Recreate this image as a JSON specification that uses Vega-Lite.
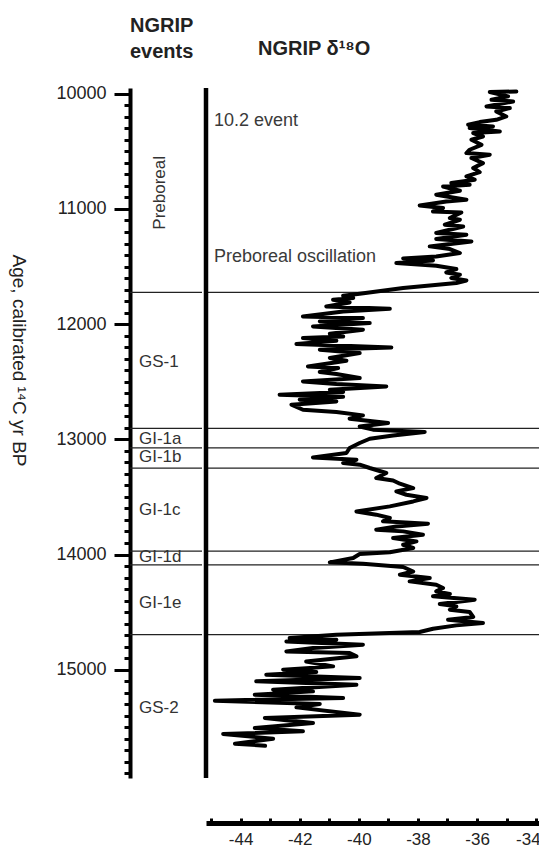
{
  "$schema": "https://vega.github.io/schema/vega-lite/v6.json",
  "padding": {"left": 8, "top": 15, "right": 0, "bottom": 0},
  "background": "white",
  "config": {"view": {"stroke": null}, "font": "Liberation Sans", "concat": {"spacing": 0}},
  "datasets": {
    "boundaries": [{"age": 11725}, {"age": 12905}, {"age": 13075}, {"age": 13250}, {"age": 13970}, {"age": 14090}, {"age": 14695}],
    "events": [
      {"label": "GS-1", "age": 12330},
      {"label": "GI-1a", "age": 13000},
      {"label": "GI-1b", "age": 13155},
      {"label": "GI-1c", "age": 13610},
      {"label": "GI-1d", "age": 14020},
      {"label": "GI-1e", "age": 14420},
      {"label": "GS-2", "age": 15330}
    ],
    "preboreal": [{"label": "Preboreal", "age": 10860}],
    "annotations": [{"label": "10.2 event", "age": 10234}, {"label": "Preboreal oscillation", "age": 11420}],
    "ngrip": [
      {"age": 9980, "d18O": -34.67}, {"age": 9985, "d18O": -35.57}, {"age": 10023, "d18O": -34.95}, {"age": 10052, "d18O": -35.51},
      {"age": 10067, "d18O": -34.78}, {"age": 10110, "d18O": -35.68}, {"age": 10124, "d18O": -34.89}, {"age": 10154, "d18O": -35.35},
      {"age": 10197, "d18O": -35.01}, {"age": 10226, "d18O": -35.35}, {"age": 10246, "d18O": -35.91}, {"age": 10269, "d18O": -36.30},
      {"age": 10284, "d18O": -35.46}, {"age": 10298, "d18O": -36.25}, {"age": 10327, "d18O": -35.23}, {"age": 10341, "d18O": -36.13},
      {"age": 10371, "d18O": -35.80}, {"age": 10399, "d18O": -36.19}, {"age": 10443, "d18O": -35.85}, {"age": 10486, "d18O": -36.25},
      {"age": 10515, "d18O": -36.36}, {"age": 10529, "d18O": -35.57}, {"age": 10558, "d18O": -36.19}, {"age": 10602, "d18O": -35.80},
      {"age": 10645, "d18O": -36.13}, {"age": 10680, "d18O": -35.91}, {"age": 10718, "d18O": -36.36}, {"age": 10746, "d18O": -36.08},
      {"age": 10775, "d18O": -36.87}, {"age": 10790, "d18O": -36.25}, {"age": 10805, "d18O": -37.15}, {"age": 10842, "d18O": -36.58},
      {"age": 10877, "d18O": -37.38}, {"age": 10920, "d18O": -36.36}, {"age": 10935, "d18O": -37.04}, {"age": 10970, "d18O": -37.94},
      {"age": 10992, "d18O": -37.15}, {"age": 11022, "d18O": -37.49}, {"age": 11030, "d18O": -36.53}, {"age": 11079, "d18O": -36.92},
      {"age": 11094, "d18O": -36.58}, {"age": 11137, "d18O": -37.09}, {"age": 11152, "d18O": -36.47}, {"age": 11209, "d18O": -37.38},
      {"age": 11224, "d18O": -36.36}, {"age": 11261, "d18O": -37.38}, {"age": 11282, "d18O": -36.19}, {"age": 11325, "d18O": -37.60},
      {"age": 11348, "d18O": -36.92}, {"age": 11383, "d18O": -36.58}, {"age": 11412, "d18O": -37.38}, {"age": 11430, "d18O": -38.50},
      {"age": 11447, "d18O": -37.49}, {"age": 11470, "d18O": -38.73}, {"age": 11493, "d18O": -37.38}, {"age": 11522, "d18O": -36.70},
      {"age": 11551, "d18O": -37.04}, {"age": 11571, "d18O": -36.58}, {"age": 11600, "d18O": -36.87}, {"age": 11621, "d18O": -36.36},
      {"age": 11643, "d18O": -36.70}, {"age": 11687, "d18O": -38.50}, {"age": 11736, "d18O": -39.97}, {"age": 11753, "d18O": -40.53},
      {"age": 11773, "d18O": -40.19}, {"age": 11788, "d18O": -40.87}, {"age": 11812, "d18O": -40.31}, {"age": 11846, "d18O": -41.10},
      {"age": 11866, "d18O": -38.95}, {"age": 11890, "d18O": -40.53}, {"age": 11933, "d18O": -41.89}, {"age": 11947, "d18O": -39.86},
      {"age": 11976, "d18O": -41.32}, {"age": 11990, "d18O": -39.63}, {"age": 12020, "d18O": -41.55}, {"age": 12048, "d18O": -39.86},
      {"age": 12083, "d18O": -40.98}, {"age": 12107, "d18O": -40.53}, {"age": 12121, "d18O": -41.89}, {"age": 12144, "d18O": -40.76},
      {"age": 12173, "d18O": -42.11}, {"age": 12202, "d18O": -38.90}, {"age": 12222, "d18O": -41.32}, {"age": 12251, "d18O": -39.97},
      {"age": 12294, "d18O": -40.98}, {"age": 12318, "d18O": -40.42}, {"age": 12367, "d18O": -41.72}, {"age": 12381, "d18O": -40.70},
      {"age": 12416, "d18O": -41.32}, {"age": 12433, "d18O": -40.76}, {"age": 12468, "d18O": -39.97}, {"age": 12497, "d18O": -41.89},
      {"age": 12520, "d18O": -40.76}, {"age": 12541, "d18O": -39.07}, {"age": 12569, "d18O": -40.98}, {"age": 12589, "d18O": -40.53},
      {"age": 12613, "d18O": -42.68}, {"age": 12630, "d18O": -40.53}, {"age": 12656, "d18O": -42.00}, {"age": 12671, "d18O": -40.76},
      {"age": 12699, "d18O": -42.28}, {"age": 12743, "d18O": -41.89}, {"age": 12763, "d18O": -40.76}, {"age": 12792, "d18O": -39.86},
      {"age": 12821, "d18O": -40.31}, {"age": 12858, "d18O": -39.01}, {"age": 12888, "d18O": -39.97}, {"age": 12916, "d18O": -39.52},
      {"age": 12936, "d18O": -37.77}, {"age": 12966, "d18O": -38.84}, {"age": 12995, "d18O": -39.63}, {"age": 13032, "d18O": -39.97},
      {"age": 13075, "d18O": -40.31}, {"age": 13119, "d18O": -40.42}, {"age": 13157, "d18O": -41.55}, {"age": 13177, "d18O": -40.08},
      {"age": 13206, "d18O": -40.53}, {"age": 13220, "d18O": -39.97}, {"age": 13249, "d18O": -39.63}, {"age": 13292, "d18O": -39.07},
      {"age": 13336, "d18O": -39.41}, {"age": 13357, "d18O": -38.84}, {"age": 13385, "d18O": -38.61}, {"age": 13423, "d18O": -38.16},
      {"age": 13452, "d18O": -38.73}, {"age": 13481, "d18O": -38.39}, {"age": 13509, "d18O": -37.71}, {"age": 13539, "d18O": -38.16},
      {"age": 13582, "d18O": -38.95}, {"age": 13626, "d18O": -40.08}, {"age": 13654, "d18O": -39.41}, {"age": 13683, "d18O": -38.95},
      {"age": 13712, "d18O": -39.18}, {"age": 13732, "d18O": -37.66}, {"age": 13756, "d18O": -38.73}, {"age": 13785, "d18O": -39.41},
      {"age": 13799, "d18O": -38.50}, {"age": 13828, "d18O": -37.83}, {"age": 13857, "d18O": -38.84}, {"age": 13886, "d18O": -38.05},
      {"age": 13915, "d18O": -38.50}, {"age": 13943, "d18O": -38.16}, {"age": 13981, "d18O": -38.95}, {"age": 13995, "d18O": -39.97},
      {"age": 14030, "d18O": -40.19}, {"age": 14068, "d18O": -40.98}, {"age": 14080, "d18O": -39.86}, {"age": 14108, "d18O": -38.50},
      {"age": 14147, "d18O": -38.16}, {"age": 14175, "d18O": -38.61}, {"age": 14204, "d18O": -37.60}, {"age": 14233, "d18O": -38.28},
      {"age": 14262, "d18O": -37.38}, {"age": 14291, "d18O": -37.15}, {"age": 14320, "d18O": -37.38}, {"age": 14343, "d18O": -36.92},
      {"age": 14363, "d18O": -37.49}, {"age": 14392, "d18O": -36.08}, {"age": 14429, "d18O": -37.26}, {"age": 14450, "d18O": -36.70},
      {"age": 14479, "d18O": -36.92}, {"age": 14499, "d18O": -36.25}, {"age": 14542, "d18O": -36.13}, {"age": 14566, "d18O": -36.98},
      {"age": 14594, "d18O": -35.80}, {"age": 14615, "d18O": -36.70}, {"age": 14644, "d18O": -37.49}, {"age": 14672, "d18O": -37.94},
      {"age": 14696, "d18O": -40.76}, {"age": 14725, "d18O": -42.34}, {"age": 14739, "d18O": -40.76}, {"age": 14754, "d18O": -42.45},
      {"age": 14783, "d18O": -39.86}, {"age": 14811, "d18O": -41.55}, {"age": 14841, "d18O": -42.45}, {"age": 14855, "d18O": -40.31},
      {"age": 14884, "d18O": -40.08}, {"age": 14928, "d18O": -41.78}, {"age": 14971, "d18O": -40.87}, {"age": 15000, "d18O": -42.56},
      {"age": 15020, "d18O": -41.44}, {"age": 15043, "d18O": -43.13}, {"age": 15072, "d18O": -39.97}, {"age": 15101, "d18O": -43.47},
      {"age": 15130, "d18O": -40.08}, {"age": 15173, "d18O": -42.90}, {"age": 15188, "d18O": -41.55}, {"age": 15217, "d18O": -43.52},
      {"age": 15245, "d18O": -40.53}, {"age": 15269, "d18O": -44.87}, {"age": 15297, "d18O": -41.32}, {"age": 15327, "d18O": -42.11},
      {"age": 15390, "d18O": -39.97}, {"age": 15419, "d18O": -43.18}, {"age": 15463, "d18O": -41.55}, {"age": 15506, "d18O": -43.52},
      {"age": 15535, "d18O": -41.89}, {"age": 15558, "d18O": -44.59}, {"age": 15599, "d18O": -42.90}, {"age": 15642, "d18O": -44.19},
      {"age": 15660, "d18O": -43.17}
    ]
  },
  "hconcat": [
    {
      "width": 72,
      "height": 690,
      "title": {"text": ["NGRIP", "events"], "anchor": "start", "frame": "group", "fontSize": 20, "fontWeight": "bold", "color": "#222", "lineHeight": 26, "offset": 23},
      "layer": [
        {
          "data": {"name": "boundaries"},
          "mark": {"type": "rule", "color": "#222", "strokeWidth": 1.2},
          "encoding": {
            "y": {
              "field": "age", "type": "quantitative",
              "scale": {"domain": [9950, 15940], "reverse": true, "nice": false, "zero": false},
              "axis": {
                "values": [10000,10100,10200,10300,10400,10500,10600,10700,10800,10900,11000,11100,11200,11300,11400,11500,11600,11700,11800,11900,12000,12100,12200,12300,12400,12500,12600,12700,12800,12900,13000,13100,13200,13300,13400,13500,13600,13700,13800,13900,14000,14100,14200,14300,14400,14500,14600,14700,14800,14900,15000,15100,15200,15300,15400,15500,15600,15700,15800,15900],
                "tickCount": 200,
                "labelExpr": "datum.value % 1000 === 0 ? '' + datum.value : ''",
                "labelOverlap": false,
                "labelFlush": false,
                "tickSize": {"condition": {"test": "datum.value % 1000 === 0", "value": 16}, "value": 6},
                "tickWidth": 3,
                "tickColor": "black",
                "domainColor": "black",
                "domainWidth": 4,
                "grid": false,
                "labelFontSize": 18,
                "labelColor": "#222",
                "labelPadding": 8,
                "title": "Age, calibrated ¹⁴C yr BP",
                "titleFontSize": 19,
                "titleFontWeight": "normal",
                "titleColor": "#222",
                "titleAngle": 90,
                "titleBaseline": "top",
                "titleX": -103,
                "titleY": 272
              }
            }
          }
        },
        {
          "data": {"name": "events"},
          "mark": {"type": "text", "align": "left", "baseline": "middle", "fontSize": 17, "color": "#333"},
          "encoding": {
            "x": {"datum": 0.125, "type": "quantitative", "scale": {"domain": [0, 1], "nice": false, "zero": false}, "axis": null},
            "y": {"field": "age", "type": "quantitative"},
            "text": {"field": "label"}
          }
        },
        {
          "data": {"name": "preboreal"},
          "mark": {"type": "text", "angle": 270, "align": "center", "baseline": "middle", "fontSize": 17, "color": "#333"},
          "encoding": {
            "x": {"datum": 0.42, "type": "quantitative"},
            "y": {"field": "age", "type": "quantitative"},
            "text": {"field": "label"}
          }
        }
      ]
    },
    {
      "width": 334,
      "height": 690,
      "title": {"text": "NGRIP δ¹⁸O", "anchor": "start", "frame": "group", "dx": 52, "fontSize": 20, "fontWeight": "bold", "color": "#222", "offset": 27},
      "layer": [
        {
          "data": {"name": "boundaries"},
          "mark": {"type": "rule", "color": "#222", "strokeWidth": 1.2},
          "encoding": {
            "y": {"field": "age", "type": "quantitative", "scale": {"domain": [9950, 15940], "reverse": true, "nice": false, "zero": false}, "axis": null}
          }
        },
        {
          "data": {"values": [{}]},
          "mark": {"type": "rule", "color": "#555", "strokeWidth": 1.5},
          "encoding": {"x": {"datum": -33.87, "type": "quantitative"}}
        },
        {
          "data": {"values": [{}]},
          "mark": {"type": "rule", "color": "black", "strokeWidth": 4.5},
          "encoding": {"x": {"datum": -45.17, "type": "quantitative"}}
        },
        {
          "data": {"name": "annotations"},
          "mark": {"type": "text", "align": "left", "baseline": "middle", "fontSize": 18, "color": "#3a3a3a"},
          "encoding": {
            "x": {"datum": -44.9, "type": "quantitative"},
            "y": {"field": "age", "type": "quantitative"},
            "text": {"field": "label"}
          }
        },
        {
          "data": {"name": "ngrip"},
          "mark": {"type": "line", "color": "black", "strokeWidth": 4, "strokeJoin": "round", "strokeCap": "round"},
          "encoding": {
            "x": {
              "field": "d18O", "type": "quantitative",
              "scale": {"domain": [-45.17, -33.87], "nice": false, "zero": false},
              "axis": {
                "orient": "bottom",
                "offset": 45,
                "values": [-45, -44, -43, -42, -41, -40, -39, -38, -37, -36, -35, -34],
                "tickCount": 50,
                "labelExpr": "datum.value % 2 === 0 ? '' + datum.value : ''",
                "labelOverlap": false,
                "labelFlush": false,
                "labelAlign": {"condition": {"test": "datum.value === -34", "value": "right"}, "value": "center"},
                "labelOffset": {"condition": {"test": "datum.value === -34", "value": 4}, "value": 0},
                "title": null,
                "grid": false,
                "domainColor": "black",
                "domainWidth": 5,
                "tickColor": "black",
                "tickWidth": 3,
                "tickSize": -5,
                "labelFontSize": 17,
                "labelColor": "#222",
                "labelPadding": 13
              }
            },
            "y": {"field": "age", "type": "quantitative"},
            "order": {"field": "age", "type": "quantitative"}
          }
        }
      ]
    }
  ]
}
